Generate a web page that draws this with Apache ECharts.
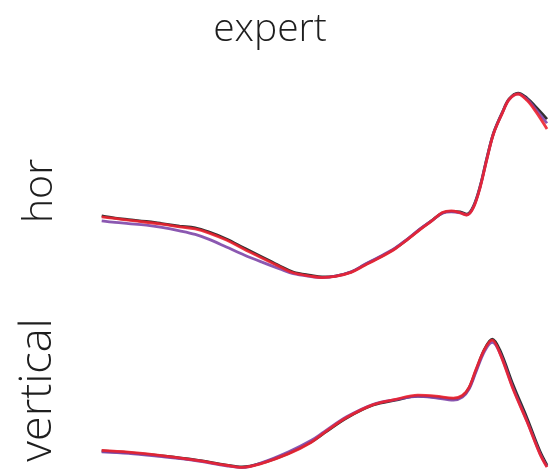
<!DOCTYPE html>
<html>
<head>
<meta charset="utf-8">
<style>
  html, body { margin: 0; padding: 0; background: #ffffff; }
  #chart { width: 552px; height: 472px; }
</style>
<script src="https://cdn.jsdelivr.net/npm/echarts@6/dist/echarts.min.js"></script>
</head>
<body>
<div id="chart"></div>
<script>
// Sample positions along each trace (percent of trace length)
const horX = [0, 3, 6, 10, 13.5, 17.5, 21, 24, 28, 32, 36, 40, 43, 47, 49.5, 52.5, 56, 59, 62.5, 66, 68.5, 71.5, 74, 76.5, 78.5, 80.5, 82, 83.5, 85, 86.5, 88, 90, 91.5, 93.5, 95.5, 97.5, 100];
const horBlack = [33.7, 32.6, 31.8, 30.8, 29.7, 28.4, 27.4, 25.3, 21.6, 16.8, 12.1, 7.4, 4.2, 2.4, 1.6, 2.1, 4.2, 7.9, 12.1, 16.8, 21.1, 26.8, 31.1, 35.3, 36.1, 35.8, 34.7, 38.9, 49.5, 64.2, 77.4, 88.4, 95.3, 98.4, 95.8, 91.1, 84.7];
const horPurple = [31.1, 30.3, 29.7, 28.9, 27.7, 25.9, 24.0, 21.5, 17.4, 13.2, 9.4, 5.8, 3.3, 1.8, 1.3, 2.0, 4.3, 8.1, 12.4, 17.0, 21.3, 26.9, 31.0, 35.1, 35.9, 35.3, 34.3, 38.5, 49.2, 63.9, 77.2, 88.2, 95.1, 98.0, 95.2, 89.8, 82.5];
const horRed = [33.2, 32.4, 31.5, 30.4, 29.4, 28.0, 26.9, 24.8, 21.0, 16.2, 11.6, 7.0, 3.8, 2.0, 1.3, 1.9, 4.0, 7.6, 11.8, 16.6, 21.0, 26.5, 30.9, 35.5, 36.4, 35.4, 34.2, 38.2, 48.8, 63.5, 77.0, 88.0, 95.0, 97.9, 94.6, 88.6, 79.5];

const vertX = [0, 6, 13.5, 21, 28, 31.5, 36, 42, 47, 50, 55, 61, 66, 71, 75, 79, 81, 82.5, 84, 86, 87.7, 89.4, 92.4, 95.5, 98.4, 100];
const vertBlack = [10.0, 9.1, 7.4, 5.3, 2.6, 1.6, 3.7, 8.9, 14.7, 19.5, 27.4, 34.2, 36.8, 38.9, 38.4, 37.4, 38.9, 43.2, 52.1, 63.7, 68.9, 63.2, 44.7, 27.4, 10.0, 2.6];
const vertPurple = [9.6, 8.8, 7.0, 5.0, 2.2, 1.3, 3.9, 9.6, 15.5, 20.2, 28.0, 34.6, 37.0, 38.8, 38.0, 36.8, 38.4, 42.6, 51.3, 62.6, 67.2, 61.8, 43.0, 25.8, 8.8, 1.8];
const vertRed = [10.3, 9.4, 7.6, 5.2, 2.5, 1.4, 3.5, 8.6, 14.5, 19.7, 27.6, 34.4, 37.2, 39.4, 38.9, 37.8, 39.2, 43.5, 52.6, 63.6, 68.4, 61.5, 42.5, 25.5, 8.5, 1.5];

const panelNames = ['hor', 'vertical'];
const titleText = 'expert';

const FONT = "'Open Sans', 'Lato', sans-serif";
const COLORS = { black: '#1b1b1b', purple: '#7e46a8', red: '#ec2230' };

function pairs(xs, ys) {
  return xs.map((x, i) => [x, ys[i]]);
}

function trace(name, xs, ys, color, idx) {
  return {
    name: name,
    type: 'line',
    xAxisIndex: idx,
    yAxisIndex: idx,
    data: pairs(xs, ys),
    smooth: 0.35,
    showSymbol: false,
    silent: true,
    lineStyle: { color: color, width: 2.8, opacity: 0.9 },
    animation: false
  };
}

const chart = echarts.init(document.getElementById('chart'), null, { renderer: 'canvas' });

const hiddenX = (gi) => ({
  type: 'value', gridIndex: gi, min: 0, max: 100, show: false
});
const hiddenY = (gi) => ({
  type: 'value', gridIndex: gi, min: 0, max: 100, show: false
});

chart.setOption({
  backgroundColor: '#ffffff',
  animation: false,
  title: {
    text: titleText,
    left: 265,
    top: 5,
    textAlign: 'center',
    textStyle: { fontFamily: FONT, fontWeight: 300, fontSize: 39, color: '#1e1e1e' }
  },
  grid: [
    { left: 101.7, right: 5, top: 90, height: 190 },
    { left: 101.7, right: 5, top: 280, height: 190 }
  ],
  xAxis: [hiddenX(0), hiddenX(1)],
  yAxis: [hiddenY(0), hiddenY(1)],
  graphic: [
    {
      type: 'text', x: 40, y: 191, rotation: Math.PI / 2,
      style: { text: panelNames[0], fontFamily: FONT, fontWeight: 300, fontSize: 41, fill: '#1e1e1e', align: 'center', verticalAlign: 'middle' }
    },
    {
      type: 'text', x: 38, y: 390, rotation: Math.PI / 2,
      style: { text: panelNames[1], fontFamily: FONT, fontWeight: 300, fontSize: 45, fill: '#1e1e1e', align: 'center', verticalAlign: 'middle' }
    }
  ],
  series: [
    trace('hor-black', horX, horBlack, COLORS.black, 0),
    trace('hor-purple', horX, horPurple, COLORS.purple, 0),
    trace('hor-red', horX, horRed, COLORS.red, 0),
    trace('vertical-black', vertX, vertBlack, COLORS.black, 1),
    trace('vertical-purple', vertX, vertPurple, COLORS.purple, 1),
    trace('vertical-red', vertX, vertRed, COLORS.red, 1)
  ]
});
</script>
</body>
</html>
